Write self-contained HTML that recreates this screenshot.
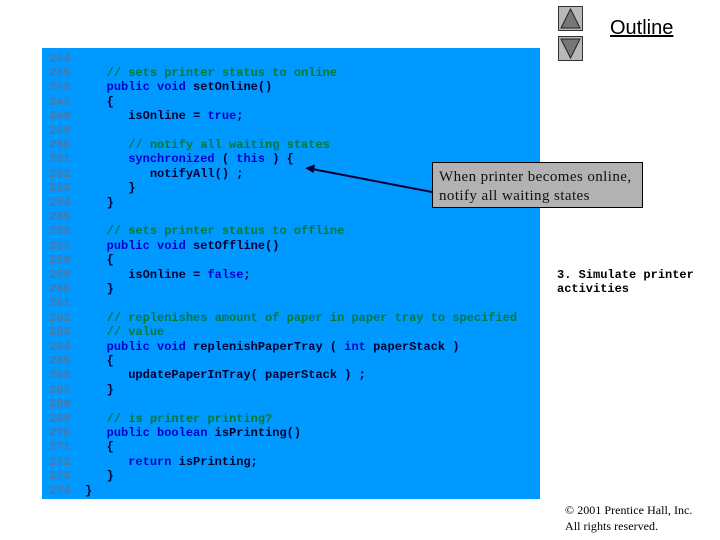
<!DOCTYPE html>
<html><head><meta charset="utf-8">
<style>
html,body{margin:0;padding:0;background:#fff}
#p{position:relative;width:720px;height:540px;overflow:hidden;background:#fff}
#p>*{position:absolute}
#bg{left:42px;top:48px;width:498px;height:451px;background:#0099ff}
pre{margin:0;font:bold 12px/14.4px "Liberation Mono",monospace;color:#000033}
#code{left:49px;top:51.5px;width:490px}
i{font-style:normal;color:#4f76a3}
b{font-weight:bold;color:#0000cc}
u{text-decoration:none;color:#007a33}
.s{font-family:"Liberation Serif",serif;color:#111}
</style></head><body><div id="p">
<div id="bg"></div>
<pre id="code"><i>244</i>
<i>245</i>     <u>// sets printer status to online</u>
<i>246</i>     <b>public void</b> setOnline()
<i>247</i>     {
<i>248</i>        isOnline = <b>true</b>;
<i>249</i>
<i>250</i>        <u>// notify all waiting states</u>
<i>251</i>        <b>synchronized</b> ( <b>this</b> ) {
<i>252</i>           notifyAll() ;
<i>253</i>        }
<i>254</i>     }
<i>255</i>
<i>256</i>     <u>// sets printer status to offline</u>
<i>257</i>     <b>public void</b> setOffline()
<i>258</i>     {
<i>259</i>        isOnline = <b>false</b>;
<i>260</i>     }
<i>261</i>
<i>262</i>     <u>// replenishes amount of paper in paper tray to specified</u>
<i>263</i>     <u>// value</u>
<i>264</i>     <b>public void</b> replenishPaperTray ( <b>int</b> paperStack )
<i>265</i>     {
<i>266</i>        updatePaperInTray( paperStack ) ;
<i>267</i>     }
<i>268</i>
<i>269</i>     <u>// is printer printing?</u>
<i>270</i>     <b>public boolean</b> isPrinting()
<i>271</i>     {
<i>272</i>        <b>return</b> isPrinting;
<i>273</i>     }
<i>274</i>  }</pre>
<svg style="left:0;top:0" width="720" height="540" viewBox="0 0 720 540">
<line x1="312" y1="169" x2="432" y2="192" stroke="#000033" stroke-width="2"/>
<polygon points="305,168 315,164.500 313.500,173" fill="#000033"/>
<rect x="432.500" y="162.500" width="210" height="45" fill="#b2b2b2" stroke="#000" stroke-width="1"/>
<rect x="558.500" y="6.500" width="24" height="24" fill="#b8b8b8" stroke="#333"/>
<polygon points="570.500,9 580,28 561,28" fill="#777" stroke="#222"/>
<rect x="558.500" y="36.500" width="24" height="24" fill="#b8b8b8" stroke="#333"/>
<polygon points="561,39 580,39 570.500,58" fill="#777" stroke="#222"/>
</svg>
<div class="s" style="left:439px;top:168px;font-size:15px;line-height:19px;white-space:nowrap;letter-spacing:.42px">When printer becomes online,<br>notify all waiting states</div>
<div style="left:610px;top:17px;font:20px/23px 'Liberation Sans',sans-serif;color:#000;text-decoration:underline;white-space:nowrap">Outline</div>
<pre style="left:557px;top:267.500px;color:#000;font-size:12px">3. Simulate printer
activities</pre>
<div class="s" style="left:565px;top:503px;font-size:12px;line-height:15.500px;white-space:nowrap;color:#000;letter-spacing:.04px">&copy; 2001 Prentice Hall, Inc.<br>All rights reserved.</div>
</div></body></html>
